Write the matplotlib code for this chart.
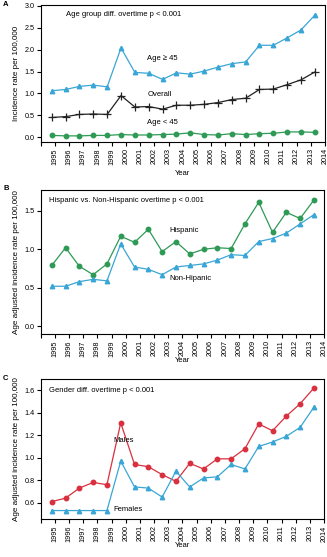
import matplotlib
matplotlib.use("Agg")
import matplotlib.pyplot as plt
import numpy as np

plt.rcParams['font.family'] = ['Liberation Sans Narrow', 'Liberation Sans', 'DejaVu Sans']

years = list(range(1995, 2015))
tick_labels = [str(y) for y in range(1995, 2015)]

# Panel A
age_ge45 = [1.06, 1.09, 1.16, 1.19, 1.15, 2.04, 1.48, 1.46, 1.32, 1.47, 1.44, 1.51, 1.60, 1.68, 1.72, 2.10, 2.10, 2.27, 2.45, 2.79]
overall = [0.45, 0.47, 0.52, 0.53, 0.52, 0.95, 0.69, 0.70, 0.64, 0.73, 0.73, 0.75, 0.79, 0.86, 0.89, 1.09, 1.10, 1.20, 1.31, 1.49]
age_lt45 = [0.04, 0.03, 0.03, 0.04, 0.04, 0.06, 0.05, 0.05, 0.06, 0.07, 0.10, 0.06, 0.05, 0.08, 0.06, 0.08, 0.09, 0.12, 0.12, 0.11]

# Panel B
hispanic = [0.79, 1.02, 0.78, 0.67, 0.81, 1.17, 1.09, 1.26, 0.97, 1.10, 0.94, 1.00, 1.02, 1.01, 1.33, 1.61, 1.22, 1.48, 1.40, 1.64]
non_hispanic = [0.52, 0.52, 0.58, 0.61, 0.59, 1.07, 0.77, 0.74, 0.67, 0.77, 0.79, 0.81, 0.86, 0.93, 0.92, 1.10, 1.14, 1.21, 1.33, 1.45]

# Panel C
males = [0.61, 0.64, 0.73, 0.78, 0.76, 1.31, 0.94, 0.92, 0.85, 0.79, 0.95, 0.90, 0.99, 0.99, 1.08, 1.30, 1.24, 1.37, 1.48, 1.62]
females = [0.53, 0.53, 0.53, 0.53, 0.53, 0.97, 0.74, 0.73, 0.65, 0.88, 0.74, 0.82, 0.83, 0.94, 0.90, 1.10, 1.14, 1.19, 1.27, 1.45]

BLUE = '#3aa6d6'
GREEN = '#2e9a55'
RED = '#d8303f'
FS = 5.2

fig = plt.figure(figsize=(3.27, 5.57), dpi=100)
W, H = 327, 557

def make_ax(top, bottom, left=40.7, right=325):
    return fig.add_axes([left / W, (H - bottom) / H, (right - left) / W, (bottom - top) / H])

XLIM = (1994.2, 2014.73)

def style(ax, ylim, yticks, ylabel, xlab_pad):
    ax.set_xlim(*XLIM)
    ax.set_ylim(*ylim)
    ax.set_yticks(yticks)
    ax.set_yticklabels([f"{v:.1f}" for v in yticks], fontsize=FS)
    xt = np.linspace(XLIM[0], XLIM[1], 21)
    ax.set_xticks(xt)
    ax.set_xticklabels([''] + tick_labels, rotation=90, fontsize=FS)
    ax.tick_params(axis='both', direction='out', length=3, width=0.8, pad=1.5)
    ax.set_ylabel(ylabel, fontsize=FS + 0.6, labelpad=3)
    ax.set_xlabel('Year', fontsize=FS + 0.3, labelpad=xlab_pad)
    for s in ax.spines.values():
        s.set_linewidth(0.8)

lw = 0.9
ms = 3.2

# Panel A
axA = make_ax(5, 142)
axA.plot(years, age_ge45, color=BLUE, lw=lw, marker='^', ms=ms, mec=BLUE, mfc=BLUE)
axA.plot(years, overall, color='#222222', lw=lw, marker='+', ms=6, mew=0.9)
axA.plot(years, age_lt45, color=GREEN, lw=lw, marker='o', ms=ms, mec=GREEN, mfc=GREEN)
style(axA, (-0.11, 3.02), [0.0, 0.5, 1.0, 1.5, 2.0, 2.5, 3.0], 'Incidence rate per 100,000', 4)
axA.text(0.089, 0.934, 'Age group diff. overtime p < 0.001', transform=axA.transAxes, fontsize=FS + 0.3, va='center')
axA.text(0.375, 0.613, 'Age \u2265 45', transform=axA.transAxes, fontsize=FS + 0.3, va='center')
axA.text(0.375, 0.35, 'Overall', transform=axA.transAxes, fontsize=FS + 0.3, va='center')
axA.text(0.375, 0.139, 'Age < 45', transform=axA.transAxes, fontsize=FS + 0.3, va='center')

# Panel B
axB = make_ax(190, 334, right=324)
axB.plot(years, hispanic, color=GREEN, lw=lw, marker='o', ms=ms, mec=GREEN, mfc=GREEN)
axB.plot(years, non_hispanic, color=BLUE, lw=lw, marker='^', ms=ms, mec=BLUE, mfc=BLUE)
style(axB, (-0.10, 1.77), [0.0, 0.5, 1.0, 1.5], 'Age adjusted incidence rate per 100,000', 0.5)
axB.text(0.03, 0.926, 'Hispanic vs. Non-Hispanic overtime p < 0.001', transform=axB.transAxes, fontsize=FS + 0.3, va='center')
axB.text(0.455, 0.717, 'Hispanic', transform=axB.transAxes, fontsize=FS + 0.3, va='center')
axB.text(0.455, 0.382, 'Non-Hipanic', transform=axB.transAxes, fontsize=FS + 0.3, va='center')

# Panel C
axC = make_ax(379, 519, right=324)
axC.plot(years, males, color=RED, lw=lw, marker='o', ms=ms, mec=RED, mfc=RED)
axC.plot(years, females, color=BLUE, lw=lw, marker='^', ms=ms, mec=BLUE, mfc=BLUE)
style(axC, (0.455, 1.70), [0.6, 0.8, 1.0, 1.2, 1.4, 1.6], 'Age adjusted incidence rate per 100,000', 0.5)
axC.text(0.03, 0.917, 'Gender diff. overtime p < 0.001', transform=axC.transAxes, fontsize=FS + 0.3, va='center')
axC.text(0.258, 0.564, 'Males', transform=axC.transAxes, fontsize=FS + 0.3, va='center')
axC.text(0.258, 0.07, 'Females', transform=axC.transAxes, fontsize=FS + 0.3, va='center')

# Panel letters
for lab, ypx in [('A', 4), ('B', 189), ('C', 379)]:
    fig.text(3 / W, 1 - ypx / H, lab, fontsize=5.5, fontweight='bold', va='center', ha='left')

fig.savefig('out.png', dpi=100)
